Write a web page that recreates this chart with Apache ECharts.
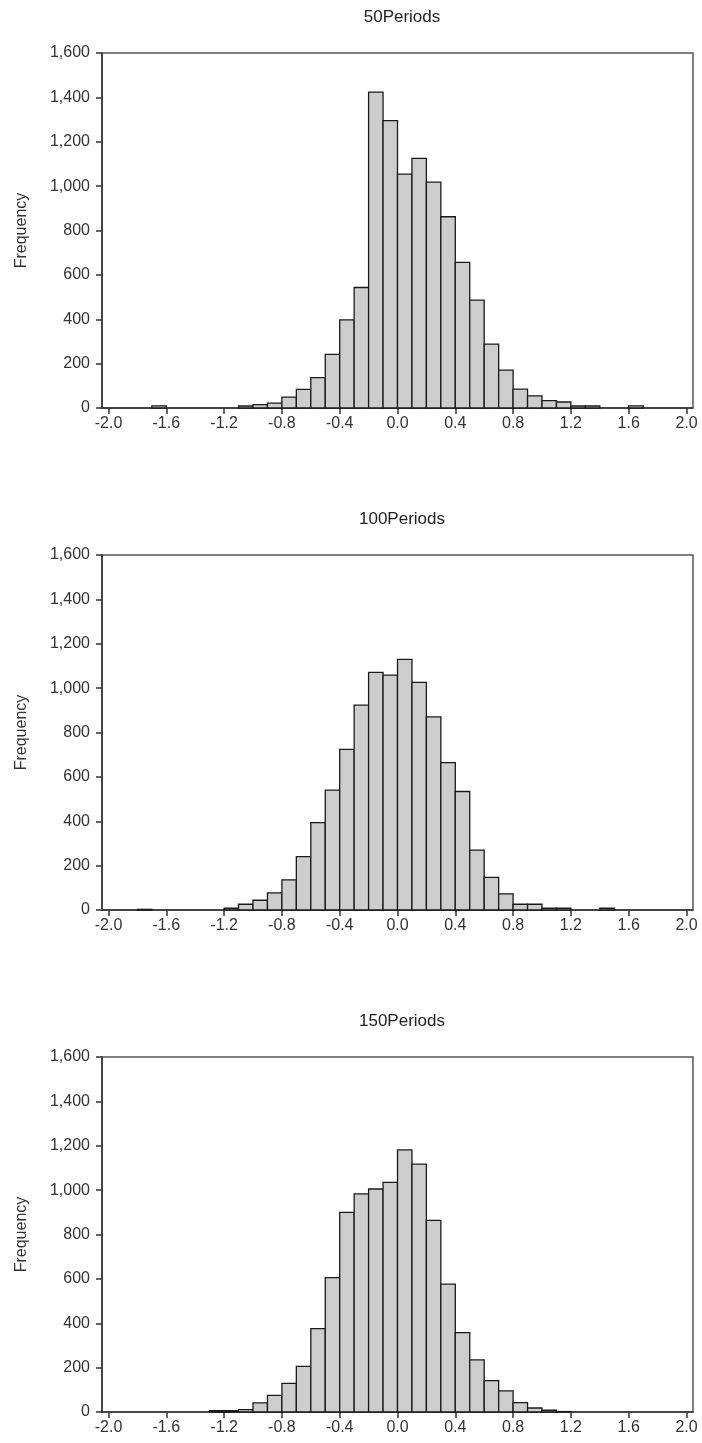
<!DOCTYPE html>
<html>
<head>
<meta charset="utf-8">
<script src="https://cdn.jsdelivr.net/npm/echarts@6/dist/echarts.min.js"></script>
<style>
  html, body { margin: 0; padding: 0; background: #fff; }
  #chart { width: 702px; height: 1443px; }
</style>
</head>
<body>
<div id="chart"></div>
<script>
// bin starts, width 0.1, from -2.0 to 1.9
const binStarts = [
  -2.0, -1.9, -1.8, -1.7, -1.6, -1.5, -1.4, -1.3, -1.2, -1.1,
  -1.0, -0.9, -0.8, -0.7, -0.6, -0.5, -0.4, -0.3, -0.2, -0.1,
  0.0, 0.1, 0.2, 0.3, 0.4, 0.5, 0.6, 0.7, 0.8, 0.9,
  1.0, 1.1, 1.2, 1.3, 1.4, 1.5, 1.6, 1.7, 1.8, 1.9
]
const binWidth = 0.1

const periods50 = [
  0, 0, 0, 10, 0, 0, 0, 0, 0, 9,
  15, 22, 49, 84, 137, 242, 397, 543, 1424, 1295,
  1054, 1125, 1018, 862, 656, 486, 288, 171, 85, 55,
  33, 27, 9, 9, 0, 0, 10, 0, 0, 0
]
const periods100 = [
  0, 0, 3, 0, 0, 0, 0, 0, 8, 26,
  44, 77, 136, 241, 394, 540, 724, 923, 1071, 1059,
  1130, 1026, 870, 664, 534, 270, 147, 73, 26, 26,
  8, 8, 0, 0, 8, 0, 0, 0, 0, 0
]
const periods150 = [
  0, 0, 0, 0, 0, 0, 0, 6, 6, 11,
  41, 75, 129, 206, 376, 606, 900, 983, 1005, 1035,
  1181, 1117, 864, 576, 358, 235, 141, 95, 42, 18,
  8, 2, 0, 0, 0, 0, 0, 0, 0, 0
]

const panelTitles = ['50Periods', '100Periods', '150Periods']
const panelCounts = [periods50, periods100, periods150]
const xTickValues = [-2.0, -1.6, -1.2, -0.8, -0.4, 0.0, 0.4, 0.8, 1.2, 1.6, 2.0]

const FONT = 'Arial, "Liberation Sans", sans-serif'
const panelTops = [53, 555, 1057]
const panelHeight = 355

const chart = echarts.init(document.getElementById('chart'), null, { renderer: 'canvas' })

// one rect per bin, from bin start to bin end
const renderBin = (params, api) => {
  const v = api.value(2)
  if (!v) return null
  const p0 = api.coord([api.value(0), 0])
  const p1 = api.coord([api.value(1), v])
  return {
    type: 'rect',
    shape: { x: p0[0], y: p1[1], width: p1[0] - p0[0], height: p0[1] - p1[1] },
    style: { fill: '#cdcdcd', stroke: '#1a1a1a', lineWidth: 1.3 }
  }
}

const option = {
  animation: false,
  backgroundColor: '#fff',
  title: panelTitles.map((t, i) => ({
    text: t,
    left: 397,
    top: panelTops[i] - 49,
    textAlign: 'center',
    textStyle: { fontFamily: FONT, fontSize: 17, fontWeight: 'normal', color: '#222' }
  })),
  grid: panelTops.map(top => ({
    left: 102,
    width: 591,
    top: top,
    height: panelHeight,
    show: true,
    borderColor: '#555',
    borderWidth: 1.5
  })),
  xAxis: panelTops.map((_, i) => ({
    type: 'value',
    gridIndex: i,
    min: -2.045,
    max: 2.045,
    splitLine: { show: false },
    axisLine: { onZero: false, lineStyle: { color: '#333', width: 1.5 } },
    axisTick: { show: true, inside: false, length: 6, customValues: xTickValues, lineStyle: { color: '#333', width: 1.5 } },
    axisLabel: {
      customValues: xTickValues,
      formatter: v => v.toFixed(1),
      margin: 8,
      fontFamily: FONT,
      fontSize: 16,
      color: '#333'
    }
  })),
  yAxis: panelTops.map((_, i) => ({
    type: 'value',
    gridIndex: i,
    min: 0,
    max: 1600,
    interval: 200,
    name: 'Frequency',
    nameLocation: 'middle',
    nameRotate: 90,
    nameGap: 72,
    nameTextStyle: { fontFamily: FONT, fontSize: 16, color: '#333' },
    splitLine: { show: false },
    axisLine: { show: true, onZero: false, lineStyle: { color: '#333', width: 1.5 } },
    axisTick: { show: true, length: 6, lineStyle: { color: '#333', width: 1.5 } },
    axisLabel: {
      formatter: v => v.toLocaleString('en-US'),
      margin: 12,
      fontFamily: FONT,
      fontSize: 16,
      color: '#333'
    }
  })),
  series: panelCounts.map((counts, i) => ({
    type: 'custom',
    xAxisIndex: i,
    yAxisIndex: i,
    renderItem: renderBin,
    encode: { x: [0, 1], y: 2 },
    data: binStarts.map((s, k) => [s, +(s + binWidth).toFixed(1), counts[k]])
  }))
}

chart.setOption(option)
</script>
</body>
</html>
